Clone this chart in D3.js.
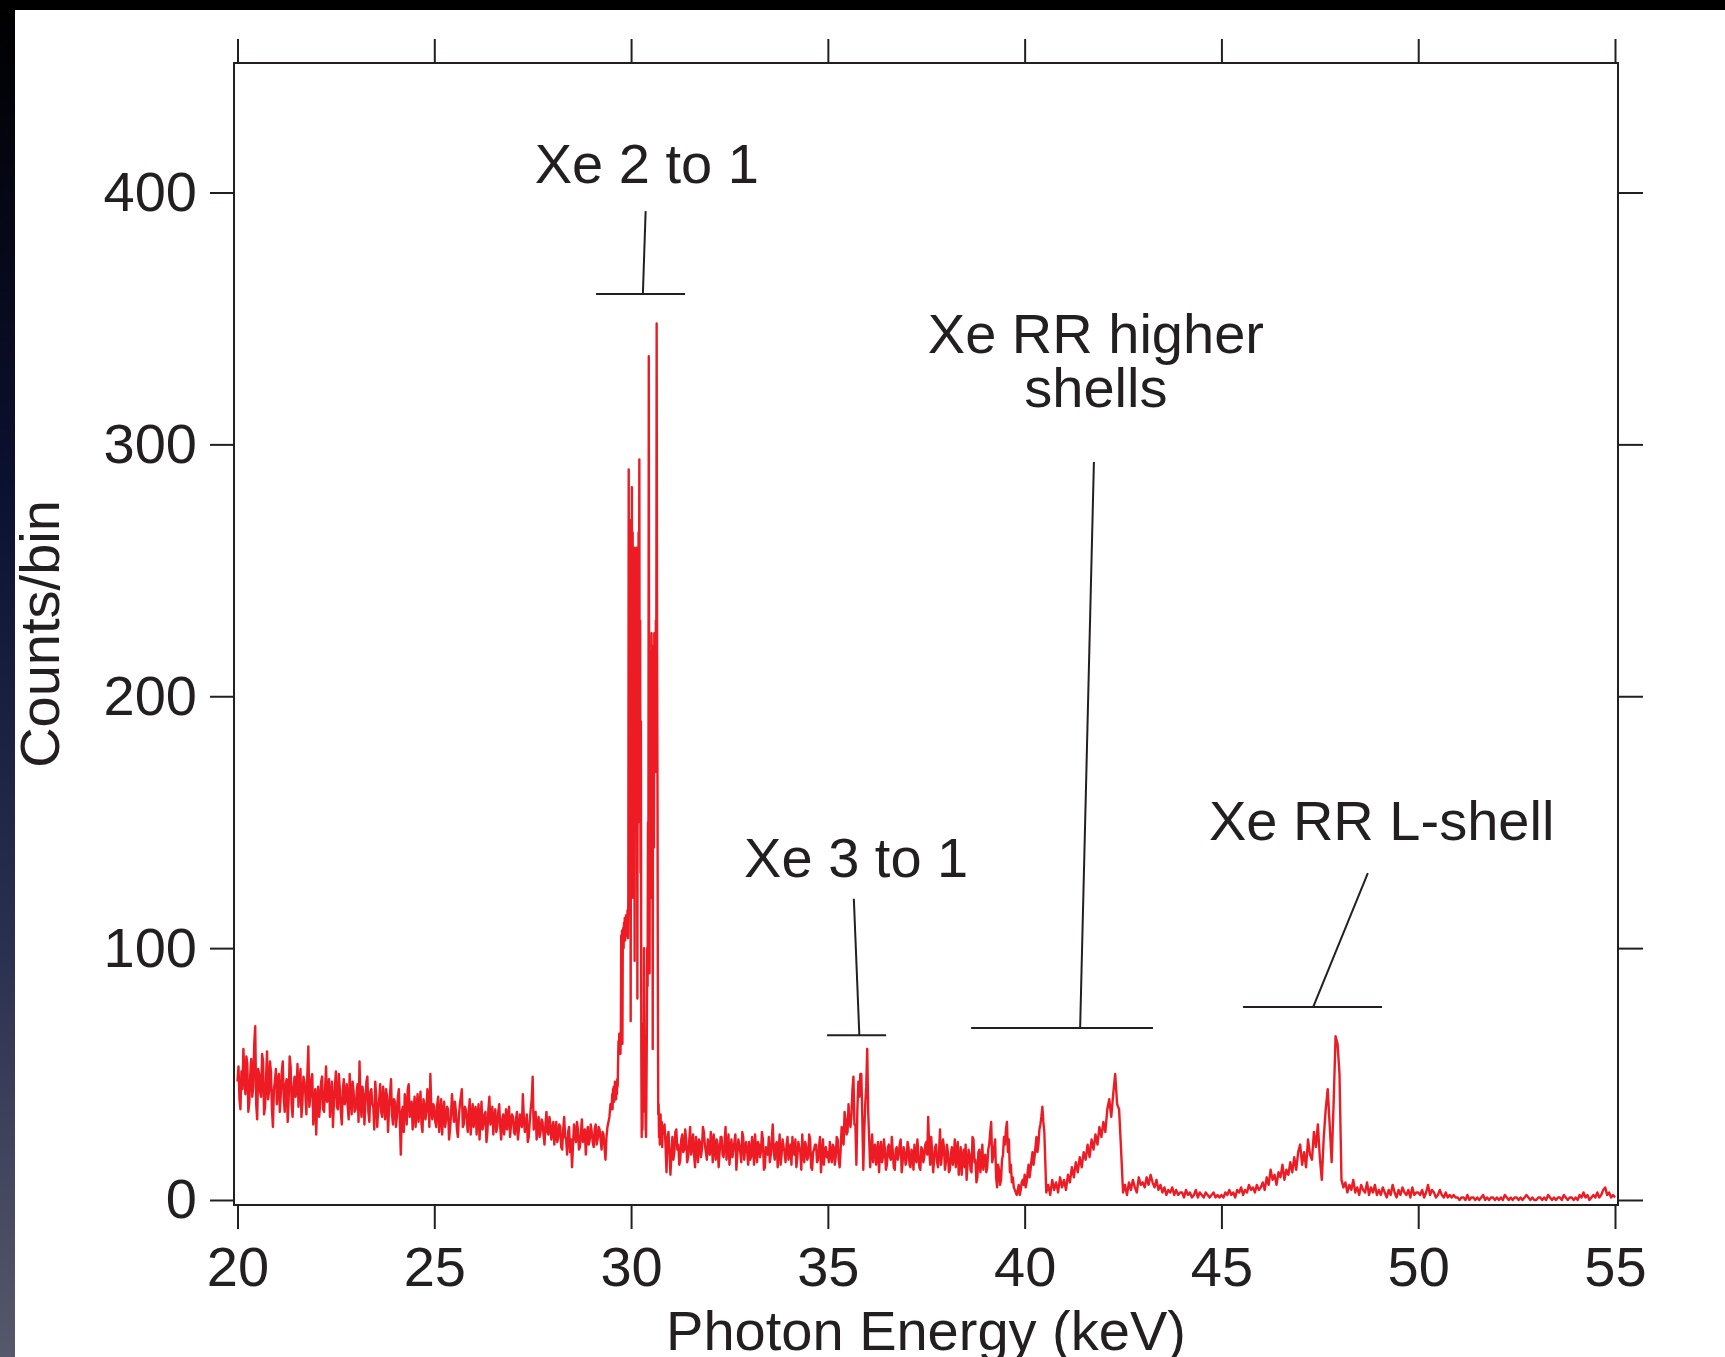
<!DOCTYPE html>
<html><head><meta charset="utf-8">
<script src="https://cdn.jsdelivr.net/npm/d3@7"></script>
<style>
html,body{margin:0;padding:0;background:#fff;overflow:hidden}
svg{display:block}
</style></head><body>
<svg id="chart" width="1725" height="1357"></svg>
<script>
// ---------------- DATA ----------------
// Low-energy background: 20.000 .. 29.500 keV, 0.025 keV bins
const lowStart = 20.00, lowStep = 0.025;
const countsLow = [
47,53,40,36,51,44,60,49,42,57,54,35,39,50,56,41,45,62,69,38,32,52,50,43,41,58,55,34,37,48,59,40,43,55,51,36,29,44,47,52,
38,47,50,35,42,51,55,40,35,46,48,31,40,57,53,38,33,45,49,41,44,54,37,46,52,33,39,49,47,42,34,50,61,37,41,48,50,30,36,44,
26,40,45,33,38,47,49,36,35,44,53,39,40,48,33,42,47,29,39,45,51,37,36,50,44,35,30,43,48,38,41,46,37,32,50,41,34,47,43,35,
36,42,46,31,55,40,33,45,42,30,38,47,49,35,31,43,44,38,37,28,47,41,29,36,40,46,35,33,45,39,32,44,41,27,36,42,48,34,30,40,
39,29,33,41,44,31,18,35,37,27,42,38,30,44,46,33,34,39,28,35,41,29,36,42,31,37,43,30,27,40,38,32,35,44,40,29,50,36,32,38,
37,31,29,38,41,27,34,40,26,35,39,29,32,37,36,24,28,34,42,36,31,39,35,28,25,33,38,41,44,29,30,37,36,32,27,35,40,26,33,38,
29,35,37,26,33,38,24,32,39,28,30,34,35,23,27,36,41,30,32,37,26,33,36,27,29,35,38,29,24,32,34,26,31,36,28,33,37,25,30,34,
33,27,26,32,35,24,28,34,31,29,42,33,27,30,34,23,25,31,36,40,49,28,30,35,24,29,33,25,27,32,31,26,22,30,35,27,26,33,30,24,
28,31,22,27,31,23,25,30,29,21,20,28,33,25,24,18,27,29,19,24,13,22,30,26,23,31,28,20,21,27,32,23,25,28,18,26,29,22,24,30,
27,23,21,28,30,22,24,29,28,24,20,27,26,21,16,25,29,31,33,38,36
];
// Xe 2 to 1 region: 29.51 .. 30.80 keV, 0.01 keV bins
const peakStart = 29.51, peakStep = 0.01;
const countsPeak = [
38,42,36,44,40,45,39,43,47,41,
44,40,46,42,48,45,55,63,60,66,
62,64,58,67,105,98,107,62,104,108,
100,110,106,112,103,109,113,105,111,108,
115,104,120,290,150,270,180,240,71,230,
160,283,140,265,120,250,200,259,95,245,
180,230,150,259,210,80,240,170,265,220,
294,150,230,130,190,60,25,40,28,55,
70,45,100,60,35,50,30,25,42,65,
100,85,150,120,335,170,90,200,140,218,
120,225,160,210,60,220,180,140,225,200,
215,170,230,190,348,225,170,90,34,38,
25,30,22,28,34,24,27,31,21,26
];
// Mid-energy background incl. Xe 3 to 1: 30.850 .. 40.500 keV, 0.025 keV bins
const midStart = 30.85, midStep = 0.025;
const countsMid = [
30,22,11,25,27,19,
10,18,25,16,19,27,28,20,22,14,16,24,26,19,20,28,24,15,17,23,29,18,21,26,18,13,25,21,15,24,23,17,20,29,27,22,19,16,24,20,
18,27,23,15,26,21,16,24,22,13,19,25,25,18,17,22,29,16,21,26,14,20,24,17,20,23,26,12,18,24,22,19,15,27,25,16,21,23,19,14,
23,16,17,25,21,14,26,20,15,23,22,17,19,27,24,12,13,21,20,18,25,15,18,24,30,19,16,22,23,13,20,26,14,18,24,21,19,15,22,25,
16,20,22,14,25,19,18,24,13,17,23,21,19,12,26,18,15,23,21,16,17,26,24,13,12,19,20,22,22,15,16,21,25,11,18,24,14,20,21,17,
19,15,23,18,15,22,21,14,17,25,24,16,13,20,29,24,22,35,32,26,27,38,31,29,34,44,49,30,30,14,36,47,41,50,50,33,12,27,38,45,
60,35,24,13,20,26,15,21,22,14,18,23,11,19,23,15,17,24,20,12,14,21,22,17,16,25,19,13,12,20,21,16,18,22,24,11,15,21,19,14,
16,23,21,14,13,20,19,12,22,17,15,24,18,13,12,21,20,15,17,22,23,18,33,20,14,25,19,11,16,21,22,15,13,19,28,14,18,24,21,12,
15,22,19,11,12,18,21,14,17,24,13,19,23,10,16,21,10,17,20,13,22,8,14,20,18,12,11,25,24,15,16,7,9,19,20,11,15,22,12,17,
18,11,13,20,22,27,31,15,17,21,24,9,5,14,12,6,8,16,18,25,22,28,31,19,24,11,14,7,9,5,4,3,2,4,6,2,4,7,8,6,
10,5,7,11,14,9,12,16,19,14,17,21,25,19,22,28,30,33,37,31,27
];
// High-energy part: 40.55 .. 55.00 keV, 0.05 keV bins
const highStart = 40.55, highStep = 0.05;
const countsHigh = [
3,6,2,8,4,7,3,9,5,
8,4,10,7,13,9,15,11,17,13,19,16,22,17,24,20,26,22,29,25,
31,27,36,40,33,42,50,38,36,20,3,6,2,7,4,8,5,3,9,6,
7,5,9,6,10,7,5,8,4,6,3,5,2,4,3,5,2,4,2,3,
3,1,4,2,3,1,2,4,1,3,2,1,3,2,1,2,3,1,2,1,
2,1,3,2,4,2,3,1,4,3,5,2,4,3,6,4,5,3,6,4,
5,7,4,9,6,12,8,10,6,11,9,14,8,12,10,15,11,17,12,19,
22,14,19,13,24,18,16,27,21,30,17,8,25,36,44,30,15,38,65,62,
50,8,5,7,3,6,4,8,3,5,2,6,4,3,7,2,5,3,6,2,
4,2,5,3,1,4,2,6,3,1,4,2,5,3,2,4,1,5,2,3,
3,2,4,1,3,6,2,4,3,1,2,4,2,1,3,1,2,1,2,1,
1,0,1,1,0,2,0,1,1,0,1,0,1,2,0,1,0,1,1,0,
1,0,1,0,2,1,0,1,0,1,1,0,1,0,1,2,1,0,1,0,
0,1,1,0,1,0,2,1,0,1,0,1,1,0,2,1,0,1,1,0,
1,0,2,1,3,1,2,0,1,2,1,3,1,2,4,5,2,3,1,2,
1
];
const xTicks = [20, 25, 30, 35, 40, 45, 50, 55];
const yTicks = [0, 100, 200, 300, 400];
const xTitle = "Photon Energy (keV)";
const yTitle = "Counts/bin";
// annotations, anchored in data units (keV, counts)
const annotations = [
  {lines: ["Xe 2 to 1"],              tx: 30.40, ty: 403.8, top: [30.37, 392.6], bot: [30.30, 359.7], br: [29.11, 31.37]},
  {lines: ["Xe 3 to 1"],              tx: 35.72, ty: 128.2, top: [35.66, 119.6], bot: [35.80, 65.4],  br: [34.98, 36.48]},
  {lines: ["Xe RR higher", "shells"], tx: 41.81, ty: 336.3, top: [41.76, 293.0], bot: [41.41, 68.3],  br: [38.64, 43.26]},
  {lines: ["Xe RR L-shell"],          tx: 49.07, ty: 142.9, top: [48.72, 129.8], bot: [47.33, 76.6],  br: [45.55, 49.08]}
];

// ---------------- BUILD SERIES ----------------
function seg(start, step, arr) {
  return arr.map((c, i) => ({e: Math.round((start + i * step) * 1000) / 1000, c}));
}
const spectrum = [].concat(
  seg(lowStart, lowStep, countsLow),
  seg(peakStart, peakStep, countsPeak),
  seg(midStart, midStep, countsMid),
  seg(highStart, highStep, countsHigh)
);

// ---------------- DRAW ----------------
const W = 1725, H = 1357;
const ink = "#231f20", font = "'Liberation Sans', Arial, Helvetica, sans-serif";
const fs = 56;
const svg = d3.select("#chart");

// page background & dark borders
const defs = svg.append("defs");
const g1 = defs.append("linearGradient").attr("id", "side").attr("x1", 0).attr("y1", 0).attr("x2", 0).attr("y2", 1);
g1.append("stop").attr("offset", "0").attr("stop-color", "#000000");
g1.append("stop").attr("offset", "0.35").attr("stop-color", "#0c1030");
g1.append("stop").attr("offset", "0.7").attr("stop-color", "#2c3050");
g1.append("stop").attr("offset", "1").attr("stop-color", "#56586c");
svg.append("rect").attr("width", W).attr("height", H).attr("fill", "#fff");
svg.append("rect").attr("x", 0).attr("y", 0).attr("width", 15).attr("height", H).attr("fill", "url(#side)");
svg.append("rect").attr("x", 0).attr("y", 0).attr("width", W).attr("height", 10).attr("fill", "#000");

const x = d3.scaleLinear().domain([20, 55]).range([237.5, 1615]);
const y = d3.scaleLinear().domain([0, 400]).range([1200, 192.5]);

const frame = {l: 234, r: 1618, t: 63, b: 1205};

// axes
function styleAxis(g) {
  g.select(".domain").remove();
  g.selectAll(".tick line").attr("stroke", ink).attr("stroke-width", 2);
  g.selectAll(".tick text").attr("fill", ink).attr("font-family", font).attr("font-size", fs);
}
svg.append("g").attr("transform", `translate(${frame.l},0)`)
  .call(d3.axisLeft(y).tickValues(yTicks).tickSize(24).tickPadding(13).tickFormat(d3.format("d")))
  .call(styleAxis);
svg.append("g").attr("transform", `translate(${frame.r},0)`)
  .call(d3.axisRight(y).tickValues(yTicks).tickSize(25).tickFormat(""))
  .call(styleAxis);
svg.append("g").attr("transform", `translate(0,${frame.b})`)
  .call(d3.axisBottom(x).tickValues(xTicks).tickSize(24).tickPadding(17).tickFormat(d3.format("d")))
  .call(styleAxis);
svg.append("g").attr("transform", `translate(0,${frame.t})`)
  .call(d3.axisTop(x).tickValues(xTicks).tickSize(24).tickFormat(""))
  .call(styleAxis);

svg.append("rect")
  .attr("x", frame.l).attr("y", frame.t)
  .attr("width", frame.r - frame.l).attr("height", frame.b - frame.t)
  .attr("fill", "none").attr("stroke", ink).attr("stroke-width", 2);

// axis titles
svg.append("text").attr("x", 926).attr("y", 1350)
  .attr("text-anchor", "middle").attr("font-family", font).attr("font-size", fs).attr("fill", ink)
  .text(xTitle);
svg.append("text").attr("transform", "translate(59,634) rotate(-90)")
  .attr("text-anchor", "middle").attr("font-family", font).attr("font-size", fs).attr("fill", ink)
  .text(yTitle);

// spectrum
const line = d3.line().x(d => x(d.e)).y(d => y(d.c));
svg.append("path").datum(spectrum)
  .attr("d", line)
  .attr("fill", "none").attr("stroke", "#ed1c24").attr("stroke-width", 2.4)
  .attr("stroke-linejoin", "round");

// annotations
const ag = svg.append("g");
annotations.forEach(a => {
  const t = ag.append("text").attr("x", x(a.tx)).attr("y", y(a.ty))
    .attr("text-anchor", "middle").attr("font-family", font).attr("font-size", fs).attr("fill", ink);
  a.lines.forEach((s, i) => {
    t.append("tspan").attr("x", x(a.tx)).attr("dy", i === 0 ? 0 : 54).text(s);
  });
  ag.append("line").attr("x1", x(a.top[0])).attr("y1", y(a.top[1]))
    .attr("x2", x(a.bot[0])).attr("y2", y(a.bot[1]))
    .attr("stroke", ink).attr("stroke-width", 2);
  ag.append("line").attr("x1", x(a.br[0])).attr("y1", y(a.bot[1]))
    .attr("x2", x(a.br[1])).attr("y2", y(a.bot[1]))
    .attr("stroke", ink).attr("stroke-width", 2);
});
</script>
</body></html>
